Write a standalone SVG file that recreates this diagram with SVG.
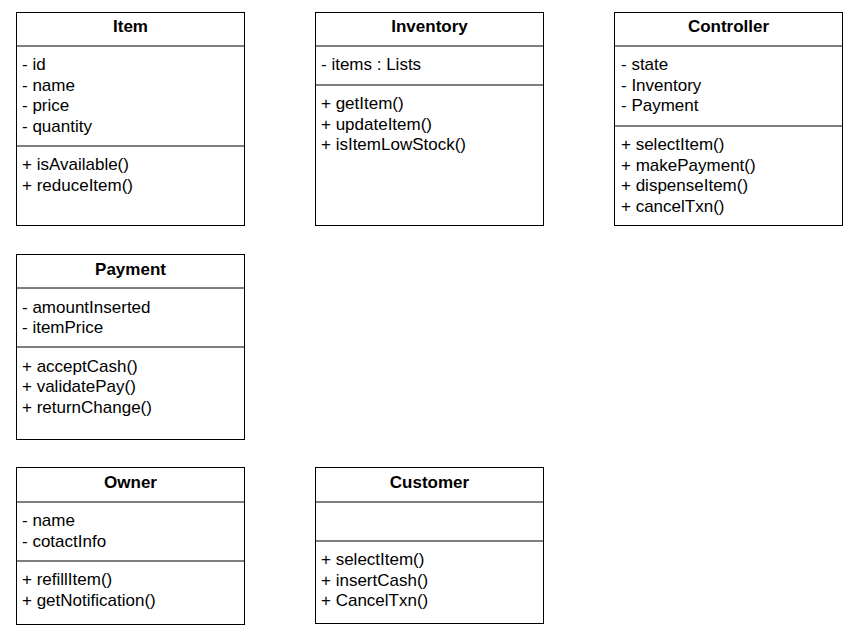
<svg xmlns="http://www.w3.org/2000/svg" width="859" height="637" viewBox="0 0 859 637">
<style>
.box{fill:#ffffff;stroke:#000000;stroke-width:1}
.div{stroke:#000000;stroke-width:1}
.t{font-family:"Liberation Sans",Arial,sans-serif;font-size:17px;font-weight:bold;text-anchor:middle;fill:#000}
.m{font-family:"Liberation Sans",Arial,sans-serif;font-size:17px;fill:#000}
</style>
<rect width="859" height="637" fill="#ffffff"/>
<g id="Item">
<rect class="box" x="16.5" y="12.5" width="228" height="213"/>
<line class="div" x1="16.5" y1="46" x2="244.5" y2="46"/>
<line class="div" x1="16.5" y1="146" x2="244.5" y2="146"/>
<text class="t" x="130.5" y="32">Item</text>
<text class="m" x="22" y="70">- id</text>
<text class="m" x="22" y="90.5">- name</text>
<text class="m" x="22" y="111">- price</text>
<text class="m" x="22" y="131.5">- quantity</text>
<text class="m" x="22" y="170">+ isAvailable()</text>
<text class="m" x="22" y="190.5">+ reduceItem()</text>
</g>
<g id="Inventory">
<rect class="box" x="315.5" y="12.5" width="228" height="213"/>
<line class="div" x1="315.5" y1="46" x2="543.5" y2="46"/>
<line class="div" x1="315.5" y1="85" x2="543.5" y2="85"/>
<text class="t" x="429.5" y="32">Inventory</text>
<text class="m" x="321" y="70">- items : Lists</text>
<text class="m" x="321" y="109">+ getItem()</text>
<text class="m" x="321" y="129.5">+ updateItem()</text>
<text class="m" x="321" y="150">+ isItemLowStock()</text>
</g>
<g id="Controller">
<rect class="box" x="614.5" y="12.5" width="228" height="213"/>
<line class="div" x1="614.5" y1="46" x2="842.5" y2="46"/>
<line class="div" x1="614.5" y1="126" x2="842.5" y2="126"/>
<text class="t" x="728.5" y="32">Controller</text>
<text class="m" x="621" y="70">- state</text>
<text class="m" x="621" y="90.5">- Inventory</text>
<text class="m" x="621" y="111">- Payment</text>
<text class="m" x="621" y="150">+ selectItem()</text>
<text class="m" x="621" y="170.5">+ makePayment()</text>
<text class="m" x="621" y="191">+ dispenseItem()</text>
<text class="m" x="621" y="211.5">+ cancelTxn()</text>
</g>
<g id="Payment">
<rect class="box" x="16.5" y="254.5" width="228" height="185"/>
<line class="div" x1="16.5" y1="288" x2="244.5" y2="288"/>
<line class="div" x1="16.5" y1="347" x2="244.5" y2="347"/>
<text class="t" x="130.5" y="274.5">Payment</text>
<text class="m" x="22" y="312.5">- amountInserted</text>
<text class="m" x="22" y="333">- itemPrice</text>
<text class="m" x="22" y="371.5">+ acceptCash()</text>
<text class="m" x="22" y="392">+ validatePay()</text>
<text class="m" x="22" y="412.5">+ returnChange()</text>
</g>
<g id="Owner">
<rect class="box" x="16.5" y="467.5" width="228" height="157"/>
<line class="div" x1="16.5" y1="502" x2="244.5" y2="502"/>
<line class="div" x1="16.5" y1="561" x2="244.5" y2="561"/>
<text class="t" x="130.5" y="487.5">Owner</text>
<text class="m" x="22" y="526">- name</text>
<text class="m" x="22" y="546.5">- cotactInfo</text>
<text class="m" x="22" y="585">+ refillItem()</text>
<text class="m" x="22" y="605.5">+ getNotification()</text>
</g>
<g id="Customer">
<rect class="box" x="315.5" y="467.5" width="228" height="156"/>
<line class="div" x1="315.5" y1="502" x2="543.5" y2="502"/>
<line class="div" x1="315.5" y1="541" x2="543.5" y2="541"/>
<text class="t" x="429.5" y="487.5">Customer</text>
<text class="m" x="321" y="565">+ selectItem()</text>
<text class="m" x="321" y="585.5">+ insertCash()</text>
<text class="m" x="321" y="606">+ CancelTxn()</text>
</g>
<g id="connectors"></g>
</svg>
